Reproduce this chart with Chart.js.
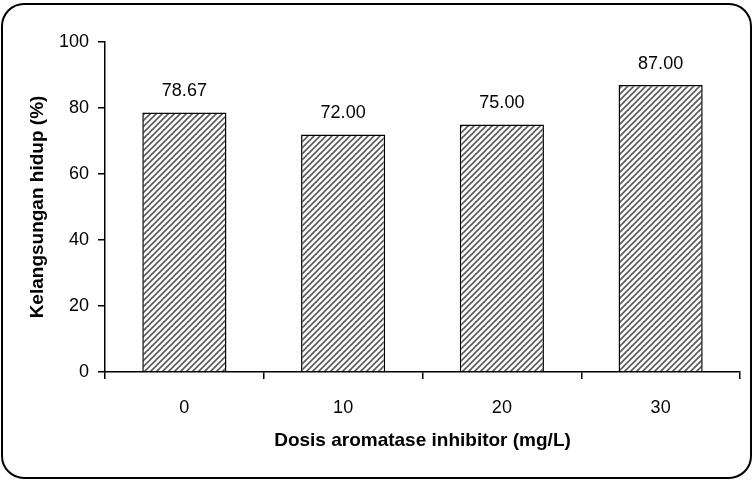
<!DOCTYPE html>
<html>
<head>
<meta charset="utf-8">
<script src="https://cdn.jsdelivr.net/npm/chart.js@4/dist/chart.umd.min.js"></script>
<style>
  html, body { margin: 0; padding: 0; background: #fff; }
  #wrap { width: 756px; height: 482px; }
</style>
</head>
<body>
<div id="wrap"><canvas id="chart" width="756" height="482"></canvas></div>
<script>
const categories = ['0', '10', '20', '30'];
const survival = [78.67, 72.00, 75.00, 87.00];
const yTicks = [0, 20, 40, 60, 80, 100];

const FONT = 'Arial, "Liberation Sans", Helvetica, sans-serif';

// diagonal hatch fill, like the old excel pattern
function makeHatch() {
  const size = 6;
  const c = document.createElement('canvas');
  c.width = size;
  c.height = size;
  const g = c.getContext('2d');
  g.fillStyle = '#fff';
  g.fillRect(0, 0, size, size);
  g.strokeStyle = '#5a5a5a';
  g.lineWidth = 1.6;
  g.beginPath();
  g.moveTo(-1, size + 1);
  g.lineTo(size + 1, -1);
  g.moveTo(-1, 1);
  g.lineTo(1, -1);
  g.moveTo(size - 1, size + 1);
  g.lineTo(size + 1, size - 1);
  g.stroke();
  return g.createPattern(c, 'repeat');
}

const frame = {
  id: 'frame',
  afterDraw(chart) {
    const { ctx } = chart;
    ctx.save();
    ctx.strokeStyle = '#000';
    ctx.lineWidth = 2;
    ctx.beginPath();
    ctx.roundRect(2, 4, 749, 474, 22);
    ctx.stroke();
    ctx.restore();
  },
};

const valueLabels = {
  id: 'valueLabels',
  afterDatasetsDraw(chart) {
    const { ctx } = chart;
    const meta = chart.getDatasetMeta(0);
    ctx.save();
    ctx.fillStyle = '#000';
    ctx.font = '18px ' + FONT;
    ctx.textAlign = 'center';
    ctx.textBaseline = 'bottom';
    meta.data.forEach((bar, i) => {
      ctx.fillText(survival[i].toFixed(2), bar.x, bar.y - 12);
    });
    ctx.restore();
  },
};

new Chart(document.getElementById('chart'), {
  type: 'bar',
  data: {
    labels: categories,
    datasets: [{
      data: survival,
      backgroundColor: makeHatch(),
      borderColor: '#000',
      borderWidth: 1.5,
      barPercentage: 0.53,
      categoryPercentage: 1,
    }],
  },
  options: {
    responsive: false,
    animation: false,
    events: [],
    layout: { padding: { top: 42, right: 16, bottom: 0, left: 0 } },
    plugins: {
      legend: { display: false },
      tooltip: { enabled: false },
    },
    scales: {
      x: {
        offset: true,
        grid: { offset: true, drawOnChartArea: false, drawTicks: true, tickLength: 7, color: '#000', lineWidth: 1.5 },
        border: { color: '#000', width: 1.5 },
        ticks: { color: '#000', font: { family: FONT, size: 18 }, padding: 18 },
        title: {
          display: true,
          text: 'Dosis aromatase inhibitor (mg/L)',
          color: '#000',
          font: { family: FONT, size: 19, weight: 'bold' },
          padding: { top: 0, bottom: 30 },
        },
        afterFit(scale) { scale.height = 110; },
      },
      y: {
        min: 0,
        max: 100,
        afterBuildTicks(scale) { scale.ticks = yTicks.map((v) => ({ value: v })); },
        grid: { drawOnChartArea: false, drawTicks: true, tickLength: 7, color: '#000', lineWidth: 1.5 },
        border: { color: '#000', width: 1.5 },
        ticks: { color: '#000', font: { family: FONT, size: 18 }, padding: 9 },
        title: {
          display: true,
          text: 'Kelangsungan hidup (%)',
          color: '#000',
          font: { family: FONT, size: 19, weight: 'bold' },
          padding: { top: 26, bottom: 0 },
        },
        afterFit(scale) { scale.width = 105; },
      },
    },
  },
  plugins: [frame, valueLabels],
});
</script>
</body>
</html>
